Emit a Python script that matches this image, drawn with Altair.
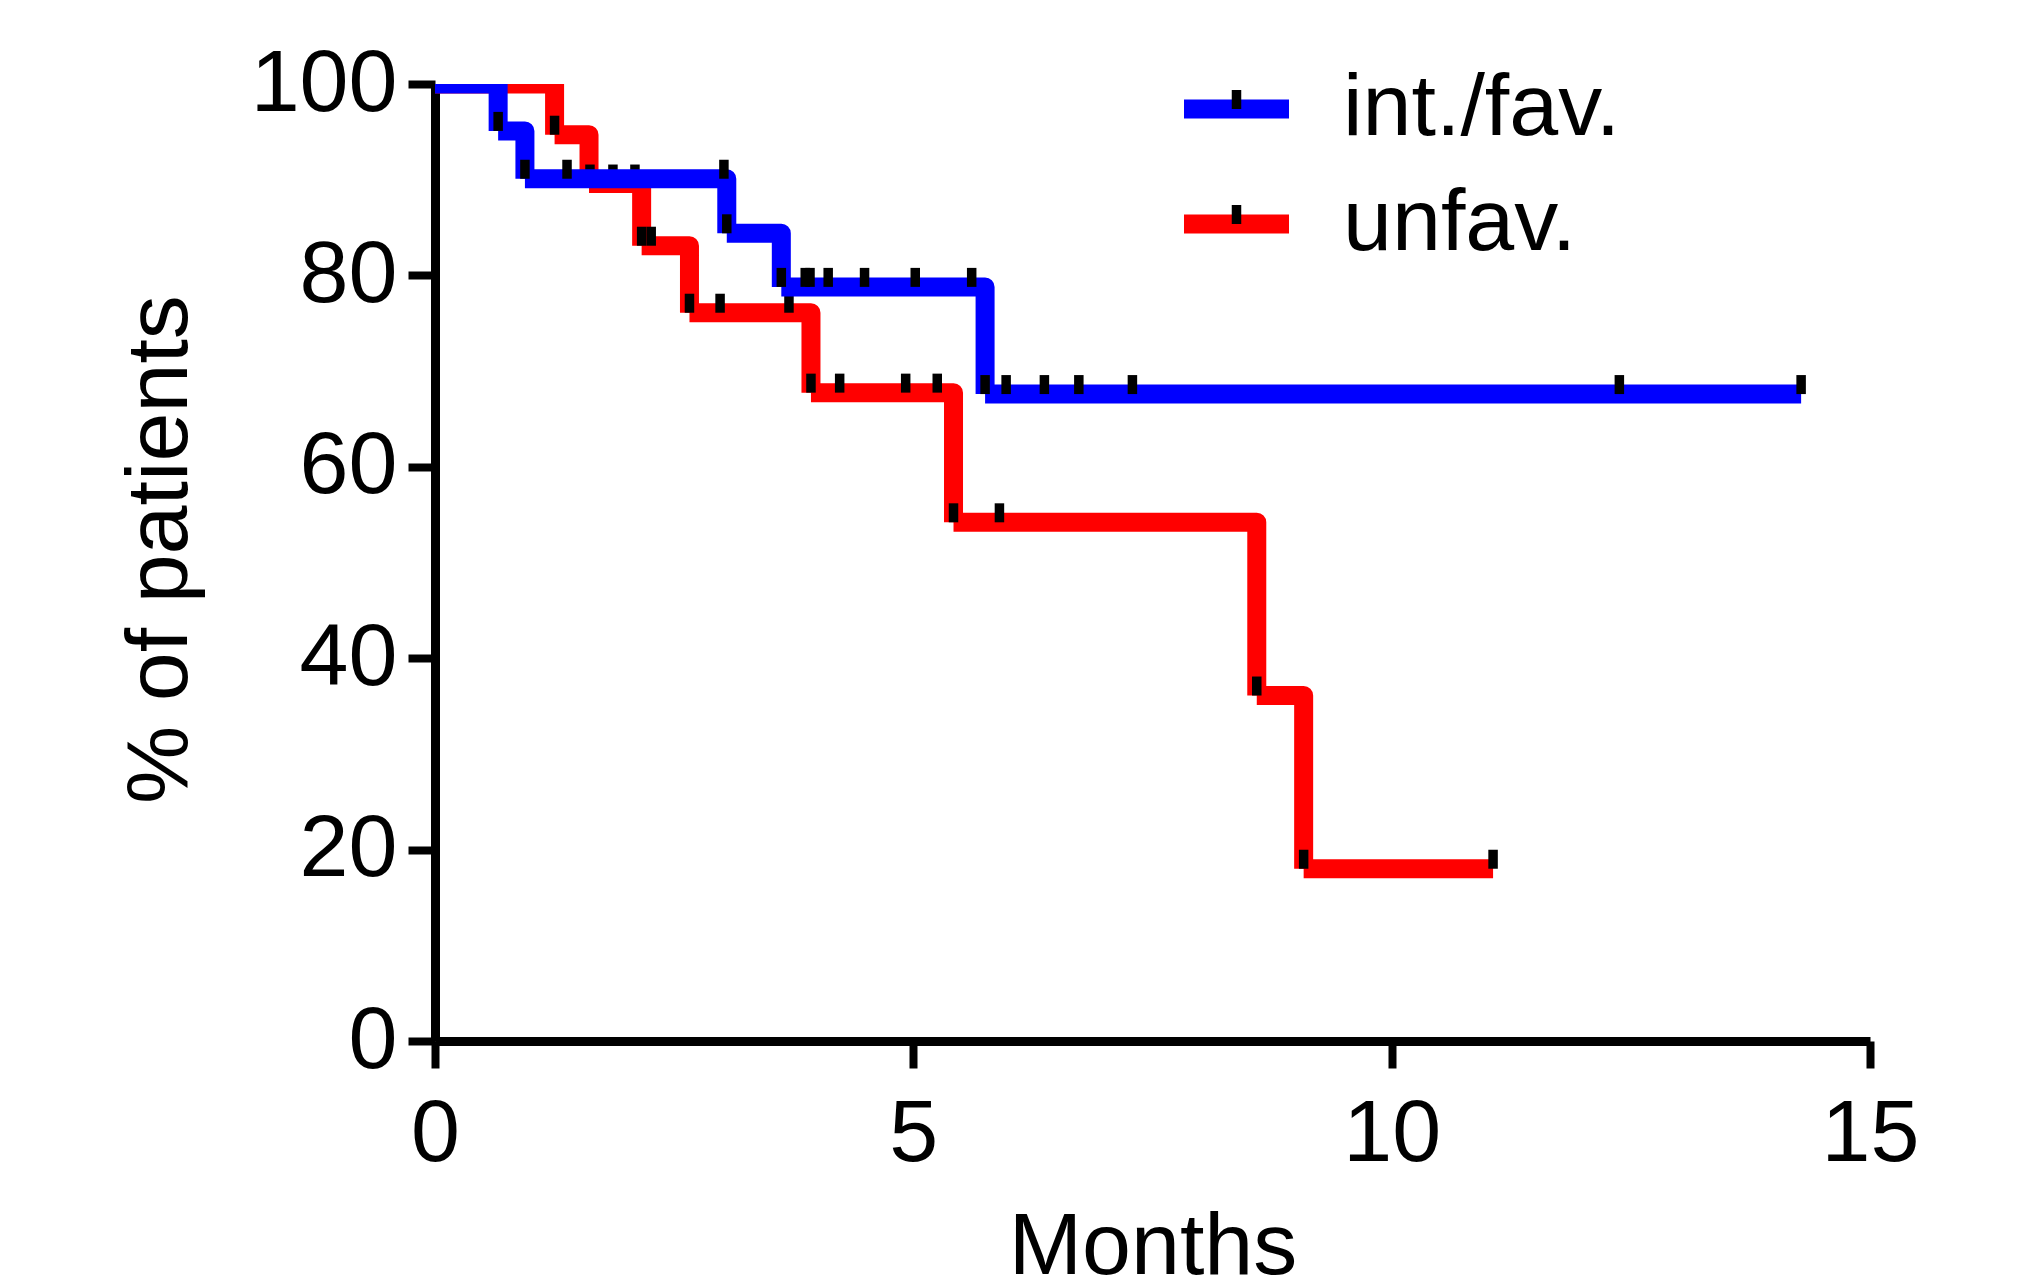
import altair as alt
import pandas as pd

# ---- data ----
groups = ["int./fav.", "unfav."]
colors = ["#0000FF", "#FF0000"]

# Kaplan-Meier steps: times (months) and survival (%) ; last entry = end of follow-up
blue_times = [0, 0.66, 0.94, 3.05, 3.62, 5.75, 14.28]
blue_surv = [100, 95.1, 90.1, 84.4, 78.8, 67.6, 67.6]
blue_censor = [0.66, 0.94, 1.38, 3.02, 3.05, 3.62, 3.87, 3.92, 4.11, 4.49, 5.02,
               5.61, 5.75, 5.97, 6.37, 6.73, 7.29, 12.38, 14.28]

red_times = [0, 1.25, 1.61, 2.16, 2.66, 3.93, 5.42, 8.59, 9.08, 11.06]
red_surv = [100, 94.7, 89.6, 83.1, 76.1, 67.75, 54.2, 36.1, 18.0, 18.0]
red_censor = [1.25, 1.62, 1.86, 2.09, 2.16, 2.26, 2.66, 2.98, 3.70, 3.93, 4.23,
              4.92, 5.25, 5.42, 5.90, 8.59, 9.08, 11.06]

x_ticks = [0, 5, 10, 15]
y_ticks = [0, 20, 40, 60, 80, 100]

FONT = "Liberation Sans"
FS = 88
CENSOR_PATH = "M-0.25,0H0.25V-1H-0.25Z"
SWATCH_PATH = "M-2,0H2"

# censor-tick legend keys (kept distinct from the line legend so the two legends stay separate)
censor_keys = [g + " (censored)" for g in groups]


def step_rows(times, surv, group):
    rows = []
    last = len(times) - 1
    for i in range(last):
        pts = [(times[i], surv[i]), (times[i + 1], surv[i])]
        if i + 1 < last:
            pts.append((times[i + 1], surv[i + 1]))
        for k, (t, s) in enumerate(pts):
            rows.append({"group": group, "seg": i, "k": k, "t": t, "s": s})
    return pd.DataFrame(rows)


def censor_rows(times, surv, censor, key):
    rows = []
    for c in censor:
        idx = max(i for i, t in enumerate(times) if t <= c + 1e-9)
        rows.append({"cgroup": key, "t": c, "s": surv[idx]})
    return pd.DataFrame(rows)


blue_lines = step_rows(blue_times, blue_surv, groups[0])
red_lines = step_rows(red_times, red_surv, groups[1])
blue_marks = censor_rows(blue_times, blue_surv, blue_censor, censor_keys[0])
red_marks = censor_rows(red_times, red_surv, red_censor, censor_keys[1])

x_enc = alt.X(
    "t:Q",
    scale=alt.Scale(domain=[0, 15], nice=False, zero=False),
    axis=alt.Axis(
        values=x_ticks, title="Months", grid=False,
        labelFont=FONT, labelFontSize=FS, labelColor="black",
        titleFont=FONT, titleFontSize=FS, titleFontWeight="normal", titleColor="black",
        domainColor="black", domainWidth=9, tickColor="black", tickWidth=8, tickSize=27,
        labelPadding=22, titlePadding=25, labelFlush=False, labelOverlap=False,
    ),
)
y_enc = alt.Y(
    "s:Q",
    scale=alt.Scale(domain=[0, 100], nice=False),
    axis=alt.Axis(
        values=y_ticks, title="% of patients", grid=False,
        labelFont=FONT, labelFontSize=FS, labelColor="black",
        titleFont=FONT, titleFontSize=FS, titleFontWeight="normal", titleColor="black",
        domainColor="black", domainWidth=9, tickColor="black", tickWidth=8, tickSize=27,
        labelPadding=11, titlePadding=46, titleY=465, labelFlush=False, labelOverlap=False,
    ),
)

color_enc = alt.Color(
    "group:N",
    scale=alt.Scale(domain=groups, range=colors),
    legend=alt.Legend(
        orient="none", legendX=757.5, legendY=-19, title=None, padding=0,
        symbolType=SWATCH_PATH, symbolSize=2756.25, symbolStrokeWidth=19,
        symbolOffset=0, labelOffset=62.5, rowPadding=27, labelLimit=600,
        labelFont=FONT, labelFontSize=FS, labelColor="black",
    ),
)
shape_enc = alt.Shape(
    "cgroup:N",
    scale=alt.Scale(domain=censor_keys, range=[CENSOR_PATH, CENSOR_PATH]),
    legend=alt.Legend(
        orient="none", legendX=757.5, legendY=-19, title=None, padding=0,
        symbolSize=1444, symbolStrokeWidth=0, symbolFillColor="black",
        symbolOffset=0, labelOffset=62.5, rowPadding=27,
        labelFont=FONT, labelFontSize=FS, labelExpr="''",
    ),
)


def line_layer(df):
    return alt.Chart(df).mark_line(
        strokeWidth=19, strokeJoin="round", strokeCap="butt", clip=True
    ).encode(x=x_enc, y=y_enc, color=color_enc, detail="seg:N", order="k:Q")


def censor_layer(df):
    return alt.Chart(df).mark_point(
        filled=True, color="black", opacity=1, size=1444, strokeWidth=0
    ).encode(x=x_enc, y=y_enc, shape=shape_enc)


chart = alt.layer(
    line_layer(red_lines),
    censor_layer(red_marks),
    line_layer(blue_lines),
    censor_layer(blue_marks),
).properties(
    width=1435,
    height=957,
    autosize=alt.AutoSizeParams(type="none"),
    padding={"left": 427, "top": 76, "right": 145, "bottom": 238},
).configure_view(stroke=None).resolve_scale(color="shared", shape="shared")

chart.save("out.html", embed_options={"renderer": "svg", "actions": False})
